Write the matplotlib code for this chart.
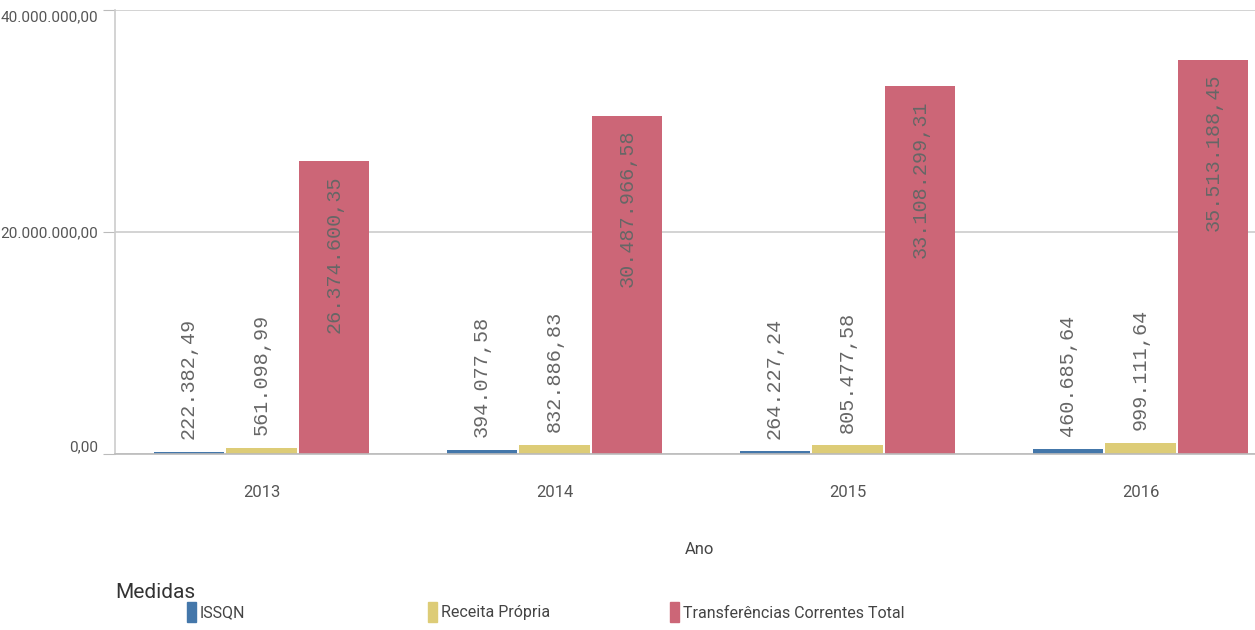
import matplotlib
matplotlib.use("Agg")
import matplotlib.pyplot as plt
import numpy as np
from matplotlib.patches import Rectangle

years = ["2013", "2014", "2015", "2016"]
series_names = ["ISSQN", "Receita Própria", "Transferências Correntes Total"]
issqn = [222382.49, 394077.58, 264227.24, 460685.64]
receita = [561098.99, 832886.83, 805477.58, 999111.64]
transf = [26374600.35, 30487966.58, 33108299.31, 35513188.45]
colors = ["#4477aa", "#ddcc77", "#cc6677"]
yticks = [0, 20000000, 40000000]


def fmt(v):
    s = f"{v:,.2f}"
    return s.replace(",", "X").replace(".", ",").replace("X", ".")


narrow = ["Roboto", "DejaVu Sans"]
mono = ["Liberation Mono", "DejaVu Sans Mono"]

fig = plt.figure(figsize=(12.55, 6.30), dpi=100)
ax = fig.add_axes([115 / 1255, 1 - 454 / 630, 1172 / 1255, (454 - 10) / 630])

x = np.arange(len(years))
w = 0.239
offs = [-0.249, 0, 0.249]
data = [issqn, receita, transf]
for i, (vals, c) in enumerate(zip(data, colors)):
    ax.bar(x + offs[i], vals, width=w, color=c, zorder=3)

for i, vals in enumerate(data):
    for j, v in enumerate(vals):
        if v > 5_000_000:
            ax.annotate(fmt(v), (x[j] + offs[i], v), xytext=(0, -10), textcoords="offset points",
                        rotation=90, ha="center", va="top", fontsize=14.5,
                        family=mono, color="#666666", zorder=4)
        else:
            ax.annotate(fmt(v), (x[j] + offs[i], v), xytext=(0, 9), textcoords="offset points",
                        rotation=90, ha="center", va="bottom", fontsize=14.5,
                        family=mono, color="#666666", zorder=4)

ax.set_xlim(-0.5, 3.5)
ax.set_ylim(0, 40000000)
ax.set_yticks(yticks)
ax.set_yticklabels([fmt(t) for t in yticks], family=narrow, fontsize=11, color="#555555")
ylabs = ax.get_yticklabels()
ylabs[0].set_verticalalignment("bottom")
ylabs[-1].set_verticalalignment("top")
ax.set_xticks(x)
ax.set_xticklabels(years, family=narrow, fontsize=12, color="#555555")
ax.tick_params(axis="y", length=9, color="#bbbbbb", pad=3)
ax.tick_params(axis="x", length=0, pad=22)
ax.grid(axis="y", color="#cccccc", linewidth=1.2, zorder=0)
for s in ["top", "right"]:
    ax.spines[s].set_visible(False)
ax.spines["left"].set_color("#cccccc")
ax.spines["bottom"].set_color("#bbbbbb")
ax.spines["left"].set_linewidth(1.2)
ax.spines["bottom"].set_linewidth(1.2)
ax.spines["bottom"].set_zorder(5)

fig.text(700 / 1255, 1 - 550 / 630, "Ano", family=narrow, fontsize=12, color="#444444",
         ha="center", va="center")

# legend
fig.text(115 / 1255, 1 - 592 / 630, "Medidas", family=narrow, fontsize=15, color="#333333",
         ha="left", va="center")
leg_x = [187, 428, 670]
for lx, name, c in zip(leg_x, series_names, colors):
    fig.patches.append(Rectangle((lx / 1255, 1 - 622 / 630), 9 / 1255, 20 / 630,
                                 transform=fig.transFigure, color=c))
    fig.text((lx + 13) / 1255, 1 - 613 / 630, name, family=narrow, fontsize=11.5,
             color="#444444", ha="left", va="center")

fig.savefig("out.png", dpi=100)
